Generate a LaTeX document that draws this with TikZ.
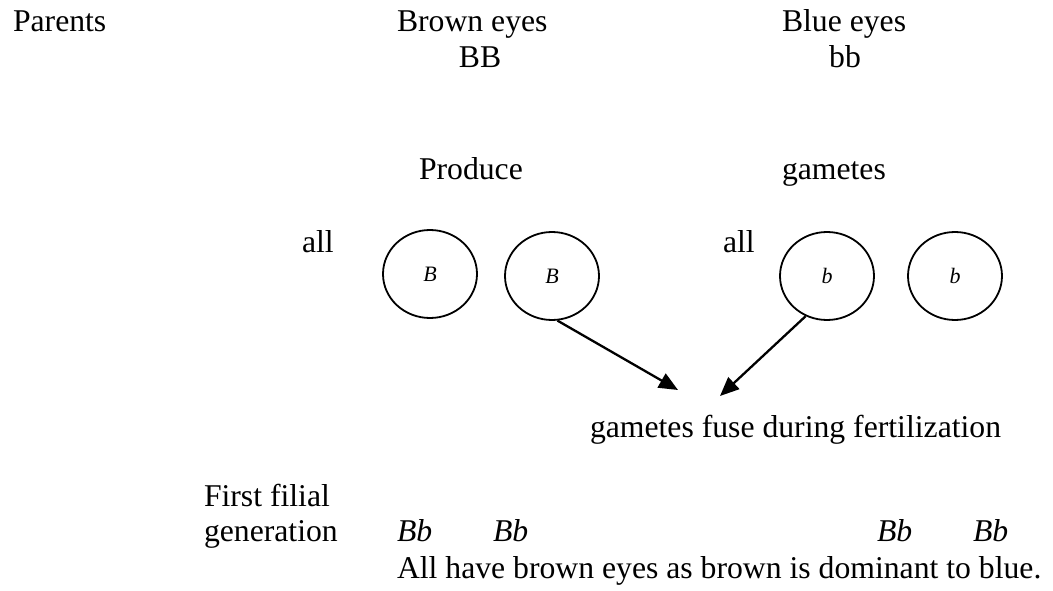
\documentclass[tikz,border=0pt]{standalone}
\usepackage{fontspec}
\setmainfont{Liberation Serif}
\usetikzlibrary{shapes.geometric,arrows.meta}
\tikzset{
  lbl/.style={anchor=base west, inner sep=0pt, outer sep=0pt,
    font=\fontsize{31.7}{36.5}\selectfont},
  gamete/.style={draw, line width=1.8pt, ellipse, inner sep=0pt,
    minimum width=94pt, minimum height=88pt,
    font=\fontsize{22}{26}\selectfont\itshape},
  fuse/.style={line width=2.3pt, -{Triangle[length=19pt,width=16pt]}}
}
\begin{document}
\begin{tikzpicture}[x=1pt,y=-1pt]
\useasboundingbox (0,0) rectangle (1053,591);
% parents row
\node[lbl] (par) at (13,32) {Parents};
\node[lbl] (brown) at (397,32) {Brown eyes};
\node[lbl] (blue) at (782,32) {Blue eyes};
\node[lbl,anchor=base] (BB) at (480,68) {BB};
\node[lbl,anchor=base] (bb) at (845,68) {bb};
% gametes row
\node[lbl] (prod) at (419,180) {Produce};
\node[lbl] (gam) at (782,180) {gametes};
\node[lbl] (allL) at (302,252) {all};
\node[lbl] (allR) at (723,252) {all};
\node[gamete] (B1) at (430,274) {B};
\node[gamete] (B2) at (552,276) {B};
\node[gamete] (b1) at (827,276) {b};
\node[gamete] (b2) at (955,276) {b};
% fertilization
\coordinate (tipL) at (678,390);
\coordinate (tipR) at (720,396);
\draw[fuse] (B2.-83) -- (tipL);
\draw[fuse] (b1.-118) -- (tipR);
\node[lbl] (fert) at (590,437) {gametes fuse during fertilization};
% first filial generation
\node[lbl] (f1a) at (204,506) {First filial};
\node[lbl] (f1b) at (204,541) {generation};
\node[lbl] (o1) at (397,541) {\itshape Bb};
\node[lbl] (o2) at (493,541) {\itshape Bb};
\node[lbl] (o3) at (877,541) {\itshape Bb};
\node[lbl] (o4) at (973,541) {\itshape Bb};
\node[lbl] (dom) at (397,578) {All have brown eyes as brown is dominant to blue.};
\end{tikzpicture}
\end{document}
